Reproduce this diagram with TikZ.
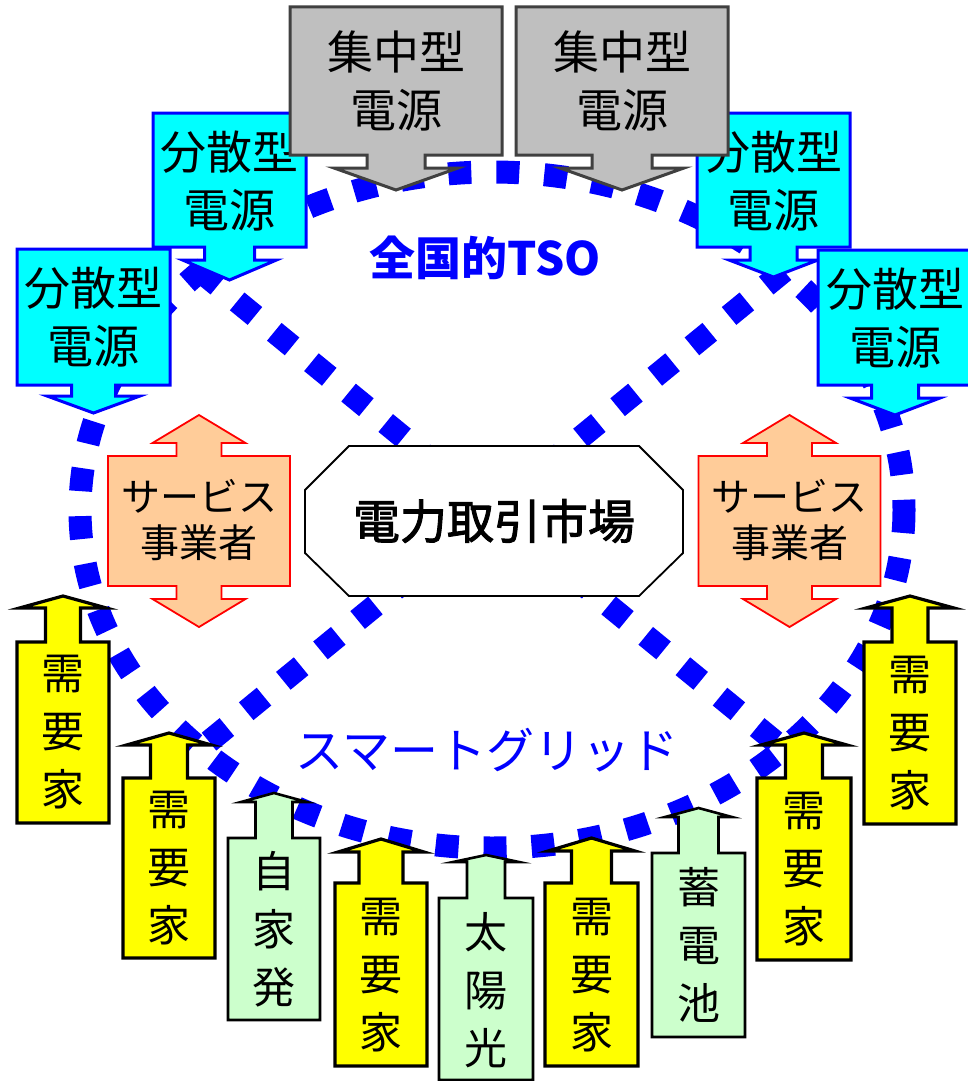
\documentclass[tikz,border=0pt]{standalone}
\usepackage{fontspec}
\newfontfamily\jp{Noto Sans CJK JP}
\newfontfamily\jpmed{Noto Sans CJK JP}[FakeBold=2]
\definecolor{dotblue}{HTML}{0000FF}
\definecolor{cyanfill}{HTML}{00FFFF}
\definecolor{grayfill}{HTML}{BFBFBF}
\definecolor{grayline}{HTML}{404040}
\definecolor{peach}{HTML}{FFCC99}
\definecolor{yel}{HTML}{FFFF00}
\definecolor{mint}{HTML}{CCFFCC}
% #1 style, #2 cx, #3 half width, #4 body far edge, #5 body edge at shaft, #6 shaft half, #7 wing half, #8 wing y, #9 tip y
\newcommand\callout[9]{%
  \draw[#1] ({#2-#3},#4) -- ({#2+#3},#4) -- ({#2+#3},#5) -- ({#2+#6},#5) -- ({#2+#6},#8)
    -- ({#2+#7},#8) -- (#2,#9) -- ({#2-#7},#8) -- ({#2-#6},#8) -- ({#2-#6},#5) -- ({#2-#3},#5) -- cycle;}
% #1 style, #2 cx, #3 half width, #4 top, #5 bottom, #6 shaft half, #7 wing half, #8 wing offset, #9 tip offset
\newcommand\dblcallout[9]{%
  \draw[#1] ({#2-#3},#4) -- ({#2-#6},#4) -- ({#2-#6},{#4-#8}) -- ({#2-#7},{#4-#8}) -- (#2,{#4-#9})
    -- ({#2+#7},{#4-#8}) -- ({#2+#6},{#4-#8}) -- ({#2+#6},#4) -- ({#2+#3},#4) -- ({#2+#3},#5)
    -- ({#2+#6},#5) -- ({#2+#6},{#5+#8}) -- ({#2+#7},{#5+#8}) -- (#2,{#5+#9}) -- ({#2-#7},{#5+#8})
    -- ({#2-#6},{#5+#8}) -- ({#2-#6},#5) -- ({#2-#3},#5) -- cycle;}
\tikzset{
  dotline/.style={draw=dotblue, line width=23pt, dash pattern=on 23pt off 25pt},
  graycall/.style={fill=grayfill, draw=grayline, line width=3pt},
  cyancall/.style={fill=cyanfill, draw=dotblue, line width=3pt},
  peachcall/.style={fill=peach, draw=red, line width=1.8pt},
  yelcall/.style={fill=yel, draw=black, line width=3.2pt},
  mintcall/.style={fill=mint, draw=black, line width=2.6pt},
  boxtext/.style={font=\jp\fontsize{46}{58}\selectfont, align=center, inner sep=0pt},
  svctext/.style={font=\jp\fontsize{39}{46}\selectfont, align=center, inner sep=0pt},
  vtext/.style={font=\jp\fontsize{43}{58}\selectfont, align=center, inner sep=0pt},
  bluelabel/.style={text=dotblue, inner sep=0pt},
}
\begin{document}
\begin{tikzpicture}[x=1pt,y=-1pt]
\fill[white] (0,0) rectangle (968,1081);
\useasboundingbox (0,0) rectangle (968,1081);
% dotted grid outlines
\coordinate (xa1) at (200,271);
\coordinate (xa2) at (784,749);
\coordinate (xb1) at (784,271);
\coordinate (xb2) at (200,749);
\draw[dotline] (492,510) ellipse [x radius=412, y radius=338];
\draw[dotline] (xa1) -- (xa2);
\draw[dotline] (xb1) -- (xb2);
% labels
\node[bluelabel, font=\jp\bfseries\fontsize{46}{50}\selectfont] (tso) at (485,258) {全国的TSO};
\node[bluelabel, font=\jp\fontsize{48}{50}\selectfont] (sg) at (487,750) {スマートグリッド};
% market
\draw[fill=white, line width=1.8pt] (349,446) -- (639,446) -- (683,490) -- (683,553) -- (639,596) -- (349,596) -- (305,553) -- (305,490) -- cycle;
\node[font=\jpmed\fontsize{47}{50}\selectfont, inner sep=0pt] (market) at (494,521) {電力取引市場};
% distributed sources
\callout{cyancall}{229.5}{76.5}{113}{247}{25}{47}{260}{280}
\node[boxtext] (d1) at (229.5,181) {分散型\\電源};
\callout{cyancall}{93.5}{76.5}{249}{385}{22}{46.5}{396}{413}
\node[boxtext] (d2) at (93.5,317) {分散型\\電源};
\callout{cyancall}{773.5}{76.5}{113}{247}{23.5}{44.5}{260}{277}
\node[boxtext] (d3) at (773.5,181) {分散型\\電源};
\callout{cyancall}{895}{77}{250}{385}{23.5}{45}{398}{415}
\node[boxtext] (d4) at (895,318) {分散型\\電源};
% central sources
\callout{graycall}{396}{106}{7}{155}{29}{62}{168}{190}
\node[boxtext] (c1) at (396,81) {集中型\\電源};
\callout{graycall}{622}{106}{7}{155}{30}{62}{168}{190}
\node[boxtext] (c2) at (622,81) {集中型\\電源};
% service providers
\dblcallout{peachcall}{199}{91}{456}{586}{22.5}{46.5}{13}{41}
\node[svctext] (s1) at (199,520) {サービス\\事業者};
\dblcallout{peachcall}{789.5}{91}{456}{586}{22.5}{46.5}{13}{41}
\node[svctext] (s2) at (789.5,520) {サービス\\事業者};
% consumers and resources
\callout{yelcall}{63}{46}{823}{642}{17.5}{43.5}{608}{596}
\node[vtext] (u1) at (63,732) {需\\要\\家};
\callout{yelcall}{169}{46}{958}{778}{18.5}{42.5}{745}{733}
\node[vtext] (u2) at (169,868) {需\\要\\家};
\callout{mintcall}{274}{46}{1020}{838}{18.5}{33}{802}{793}
\node[vtext] (u3) at (274,929) {自\\家\\発};
\callout{yelcall}{381}{46}{1066}{883}{22}{43}{852}{839}
\node[vtext] (u4) at (381,975) {需\\要\\家};
\callout{mintcall}{486}{47}{1080}{898}{19}{33}{862}{855}
\node[vtext] (u5) at (486,990) {太\\陽\\光};
\callout{yelcall}{591.5}{46.5}{1066}{883}{20}{43.5}{851}{838}
\node[vtext] (u6) at (591.5,975) {需\\要\\家};
\callout{mintcall}{698.5}{46.5}{1037}{853}{20}{33.5}{817}{808}
\node[vtext] (u7) at (698.5,945) {蓄\\電\\池};
\callout{yelcall}{804}{47}{960}{778}{18.5}{43}{745}{733}
\node[vtext] (u8) at (804,869) {需\\要\\家};
\callout{yelcall}{910}{46}{824}{642}{18}{44}{608}{596}
\node[vtext] (u9) at (910,733) {需\\要\\家};
\end{tikzpicture}
\end{document}
